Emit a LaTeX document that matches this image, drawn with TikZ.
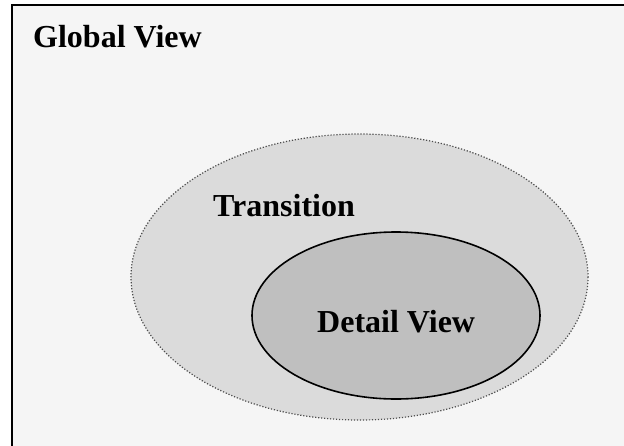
\documentclass[tikz,border=0pt]{standalone}
\usepackage{fontspec}
\setmainfont{Liberation Serif}
\begin{document}
\begin{tikzpicture}[x=1pt,y=-1pt,
  label/.style={anchor=base west,inner sep=0pt,font=\fontsize{32}{38}\selectfont\bfseries},
  frame/.style={draw=black,line width=2pt,fill=black!4},
  zone/.style={draw=black!70,line width=1.2pt,dash pattern=on 1.2pt off 1.8pt,fill=black!14},
  core/.style={draw=black,line width=1.6pt,fill=black!25}]
  \useasboundingbox (0,0) rectangle (624,445);
  \begin{scope}
    \clip (0,0) rectangle (624,445);
    % outer view frame (continues past the page edge)
    \draw[frame] (12,5) rectangle (640,460);
    % transition region
    \draw[zone] (359.5,277) ellipse [x radius=228.5, y radius=143];
    % detail region
    \draw[core] (396,315.5) ellipse [x radius=144, y radius=83.5];
  \end{scope}
  \node[label] (global) at (33,47) {Global View};
  \node[label] (trans) at (213,216) {Transition};
  \node[label] (detail) at (317,332) {Detail View};
\end{tikzpicture}
\end{document}
